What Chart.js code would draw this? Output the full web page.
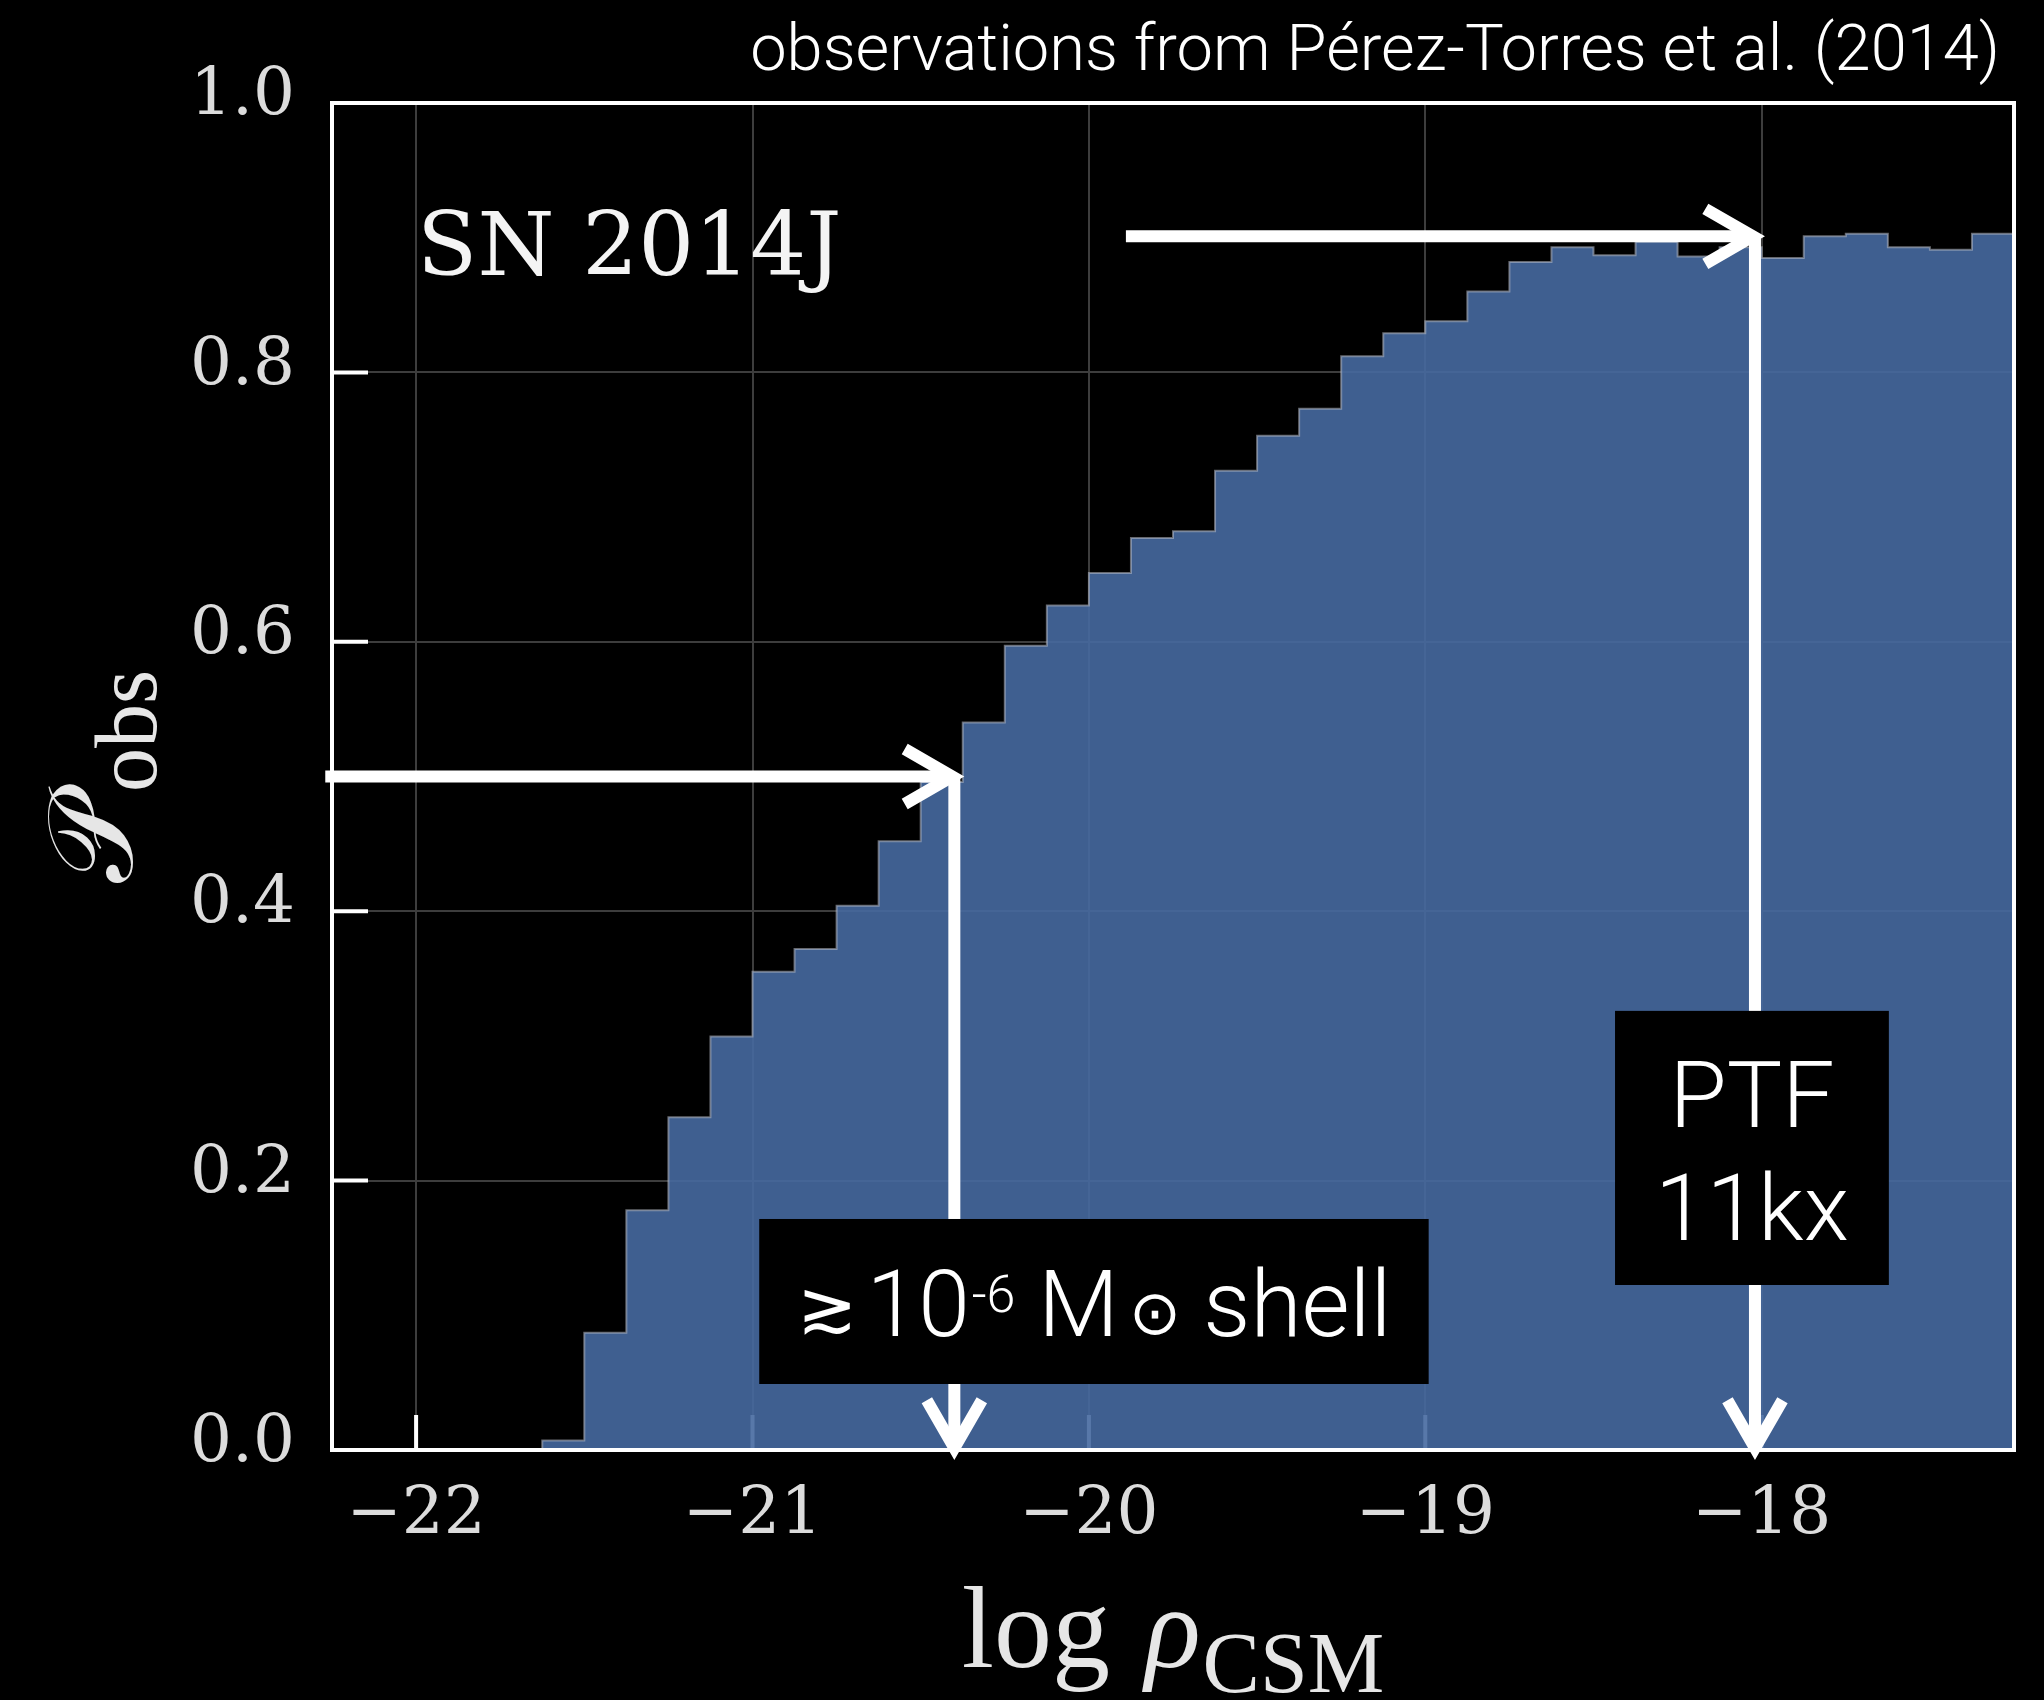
<!DOCTYPE html>
<html>
<head>
<meta charset="utf-8">
<script src="https://cdn.jsdelivr.net/npm/chart.js@4/dist/chart.umd.min.js"></script>
<style>
  html, body { margin: 0; padding: 0; background: #000; }
  #wrap { width: 2044px; height: 1700px; }
</style>
</head>
<body>
<div id="wrap"><canvas id="c" width="2044" height="1700"></canvas></div>
<script>
// Histogram of the observable probability versus log CSM density (SN 2014J)
const binStart = -22.25;
const binWidth = 0.125;
const probObs = [
  0, 0, 0, 0, 0,
  0.007, 0.087, 0.178, 0.247, 0.307,
  0.355, 0.372, 0.404, 0.452, 0.496,
  0.540, 0.597, 0.627, 0.651, 0.677,
  0.682, 0.727, 0.753, 0.773, 0.812,
  0.829, 0.838, 0.860, 0.882, 0.893,
  0.887, 0.897, 0.886, 0.893, 0.885,
  0.901, 0.903, 0.893, 0.891, 0.903
];
const xTicks = [-22, -21, -20, -19, -18];
const yTicks = [0, 0.2, 0.4, 0.6, 0.8, 1.0];

// Annotation arrows (data coordinates): horizontal start x, level, corner x
const shellArrow = { x0: -22.27, y: 0.5, x1: -20.40 };
const ptfArrow = { x0: -19.89, y: 0.901, x1: -18.02 };

// Label boxes (data coordinates)
const shellBox = { xMin: -20.98, xMax: -18.99, yMin: 0.049, yMax: 0.1715 };
const ptfBox = { xMin: -18.436, xMax: -17.622, yMin: 0.1225, yMax: 0.326 };

// step outline: one point per left bin edge, plus the closing right edge
const stepPoints = probObs.map((v, i) => ({ x: binStart + i * binWidth, y: v }));
stepPoints.push({ x: binStart + probObs.length * binWidth, y: probObs[probObs.length - 1] });

const SANS = '"Roboto", "Liberation Sans", "DejaVu Sans", sans-serif';
const SERIF = '"DejaVu Serif", serif';
const MATH_SERIF = '"Liberation Serif", "DejaVu Serif", serif';

function fmtMinus(v) { return (v < 0 ? '\u2212' : '') + Math.abs(v); }

const tickMarks = {
  id: 'tickMarks',
  beforeDatasetsDraw(chart) {
    const { ctx, chartArea: a, scales: { x, y } } = chart;
    ctx.save();
    ctx.strokeStyle = '#ffffff';
    ctx.lineWidth = 4;
    ctx.lineCap = 'butt';
    ctx.beginPath();
    yTicks.forEach(v => {
      const py = y.getPixelForValue(v);
      ctx.moveTo(a.left, py); ctx.lineTo(a.left + 36, py);
    });
    xTicks.forEach(v => {
      const px = x.getPixelForValue(v);
      ctx.moveTo(px, a.bottom); ctx.lineTo(px, a.bottom - 35);
    });
    ctx.stroke();
    ctx.restore();
  }
};

function chevron(ctx, tx, ty, dirX, dirY, len, half) {
  // open arrow head pointing along (dirX, dirY) with tip at (tx, ty)
  const ang = Math.atan2(dirY, dirX);
  ctx.beginPath();
  ctx.moveTo(tx - len * Math.cos(ang - half), ty - len * Math.sin(ang - half));
  ctx.lineTo(tx, ty);
  ctx.lineTo(tx - len * Math.cos(ang + half), ty - len * Math.sin(ang + half));
  ctx.stroke();
}

function drawRuns(ctx, runs, cx, baseline) {
  let total = 0;
  runs.forEach(r => {
    ctx.font = r.font;
    r.w = ctx.measureText(r.text).width;
    total += r.w + (r.gap || 0);
  });
  let px = cx - total / 2;
  runs.forEach(r => {
    ctx.font = r.font;
    ctx.fillText(r.text, px, baseline + (r.dy || 0));
    px += r.w + (r.gap || 0);
  });
}

const overlay = {
  id: 'overlay',
  afterDraw(chart) {
    const { ctx, chartArea: a, scales: { x, y } } = chart;
    ctx.save();

    // frame
    ctx.strokeStyle = '#ffffff';
    ctx.lineWidth = 4;
    ctx.strokeRect(a.left, a.top, a.right - a.left, a.bottom - a.top);

    // arrows
    ctx.strokeStyle = '#ffffff';
    ctx.lineWidth = 12;
    ctx.lineCap = 'butt';
    ctx.lineJoin = 'miter';
    [shellArrow, ptfArrow].forEach(ar => {
      const sx = x.getPixelForValue(ar.x0);
      const ex = x.getPixelForValue(ar.x1);
      const py = y.getPixelForValue(ar.y);
      const by = y.getPixelForValue(0);
      ctx.beginPath();
      ctx.moveTo(sx, py); ctx.lineTo(ex - 4, py);
      ctx.stroke();
      chevron(ctx, ex - 2, py, 1, 0, 55, Math.PI / 6);
      ctx.beginPath();
      ctx.moveTo(ex, py); ctx.lineTo(ex, by - 4);
      ctx.stroke();
      chevron(ctx, ex, by - 2, 0, 1, 55, Math.PI / 6);
    });

    // label boxes
    const boxPx = b => ({
      l: x.getPixelForValue(b.xMin), r: x.getPixelForValue(b.xMax),
      t: y.getPixelForValue(b.yMax), b: y.getPixelForValue(b.yMin)
    });
    ctx.fillStyle = '#000000';
    const sb = boxPx(shellBox), pb = boxPx(ptfBox);
    ctx.fillRect(sb.l, sb.t, sb.r - sb.l, sb.b - sb.t);
    ctx.fillRect(pb.l, pb.t, pb.r - pb.l, pb.b - pb.t);

    ctx.fillStyle = '#ffffff';
    ctx.textBaseline = 'alphabetic';
    ctx.textAlign = 'left';
    const big = '300 93px ' + SANS;
    drawRuns(ctx, [
      { text: '\u2273', font: '300 72px "DejaVu Sans", sans-serif', dy: -4, gap: 10 },
      { text: '10', font: big, gap: 2 },
      { text: '-6', font: '300 52px ' + SANS, dy: -24 },
      { text: ' M', font: big, gap: 10 },
      { text: '\u2299', font: '300 62px "DejaVu Sans", sans-serif', dy: -2 },
      { text: ' shell', font: big }
    ], (sb.l + sb.r) / 2, (sb.t + sb.b) / 2 + 35);

    ctx.textAlign = 'center';
    ctx.font = big;
    const pcx = (pb.l + pb.r) / 2, pcy = (pb.t + pb.b) / 2;
    ctx.fillText('PTF', pcx, pcy - 21);
    ctx.fillText('11kx', pcx, pcy + 92);

    // object name
    ctx.textAlign = 'left';
    ctx.fillStyle = '#f4f4f4';
    ctx.font = '88px ' + SERIF;
    ctx.fillText('SN 2014J', x.getPixelForValue(-22) + 1, y.getPixelForValue(0.872));

    // source note
    ctx.textAlign = 'right';
    ctx.fillStyle = '#ffffff';
    ctx.font = '300 65px ' + SANS;
    ctx.fillText('observations from P\u00e9rez-Torres et al. (2014)', 2000, 70);

    // x-axis title: log rho_CSM
    ctx.fillStyle = '#e6e6e6';
    ctx.textAlign = 'left';
    drawRuns(ctx, [
      { text: 'log ', font: '116px ' + MATH_SERIF, gap: 6 },
      { text: '\u03c1', font: 'italic 116px ' + MATH_SERIF, gap: 2 },
      { text: 'CSM', font: '86px ' + MATH_SERIF, dy: 25 }
    ], (a.left + a.right) / 2, 1667);

    // y-axis title: P_obs
    ctx.translate(132, (a.top + a.bottom) / 2);
    ctx.rotate(-Math.PI / 2);
    drawRuns(ctx, [
      { text: '\ud835\udcab', font: '120px "DejaVu Serif", "DejaVu Sans", serif', gap: 4 },
      { text: 'obs', font: '88px ' + MATH_SERIF, dy: 24 }
    ], 0, 0);

    ctx.restore();
  }
};

new Chart(document.getElementById('c'), {
  type: 'line',
  data: {
    datasets: [{
      data: stepPoints,
      stepped: 'before',
      fill: 'origin',
      backgroundColor: 'rgba(70,105,160,0.9)',
      borderColor: 'rgba(185,190,200,0.55)',
      borderWidth: 2,
      pointRadius: 0
    }]
  },
  options: {
    responsive: false,
    animation: false,
    devicePixelRatio: 1,
    layout: { padding: { top: 103, right: 30, left: 0, bottom: 0 } },
    plugins: { legend: { display: false }, tooltip: { enabled: false } },
    scales: {
      x: {
        type: 'linear',
        min: binStart,
        max: binStart + probObs.length * binWidth,
        afterBuildTicks: s => { s.ticks = xTicks.map(v => ({ value: v })); },
        afterFit: s => { s.height = 250; },
        grid: { color: '#3d3d3d', lineWidth: 2, drawTicks: false },
        border: { display: false },
        ticks: {
          color: '#dcdcdc',
          font: { family: 'DejaVu Serif', size: 66 },
          padding: 26,
          maxRotation: 0,
          autoSkip: false,
          callback: v => fmtMinus(v)
        }
      },
      y: {
        type: 'linear',
        min: 0,
        max: 1,
        afterBuildTicks: s => { s.ticks = yTicks.map(v => ({ value: v })); },
        afterFit: s => { s.width = 332; },
        grid: { color: '#3d3d3d', lineWidth: 2, drawTicks: false },
        border: { display: false },
        ticks: {
          color: '#dcdcdc',
          font: { family: 'DejaVu Serif', size: 66 },
          padding: 37,
          labelOffset: -6,
          callback: v => v.toFixed(1)
        }
      }
    }
  },
  plugins: [tickMarks, overlay]
});
</script>
</body>
</html>
